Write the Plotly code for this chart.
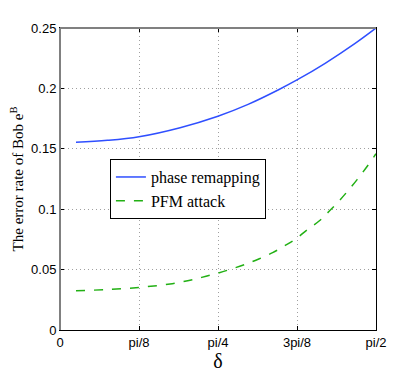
import math
import plotly.graph_objects as go

# values (delta in radians)
delta_phase = [0.0795, 0.236, 0.3927, 0.597, 0.785, 0.935, 1.084, 1.178, 1.318, 1.467, 1.5708]
err_phase = [0.1554, 0.1570, 0.1600, 0.1675, 0.1770, 0.1868, 0.1987, 0.2070, 0.2208, 0.2373, 0.2500]

delta_pfm = [0.0795, 0.236, 0.397, 0.547, 0.661, 0.726, 0.792, 0.859, 0.925, 0.991, 1.057,
             1.115, 1.173, 1.229, 1.288, 1.339, 1.387, 1.433, 1.478, 1.520, 1.561, 1.5708]
err_pfm = [0.0325, 0.0335, 0.0353, 0.0381, 0.0418, 0.0445, 0.0474, 0.0509, 0.0546, 0.0590, 0.0640,
           0.0695, 0.0755, 0.0830, 0.0902, 0.0985, 0.1068, 0.1156, 0.1247, 0.1339, 0.1435, 0.1460]

x_ticks = [0, math.pi / 8, math.pi / 4, 3 * math.pi / 8, math.pi / 2]
x_labels = ['0', 'pi/8', 'pi/4', '3pi/8', 'pi/2']
y_ticks = [0, 0.05, 0.1, 0.15, 0.2, 0.25]
y_labels = ['0', '0.05', '0.1', '0.15', '0.2', '0.25']

fig = go.Figure()

fig.add_trace(go.Scatter(
    x=delta_phase, y=err_phase, mode='lines', name='phase remapping',
    line=dict(color='#2f4fff', width=1.5, shape='spline')
))
fig.add_trace(go.Scatter(
    x=delta_pfm, y=err_pfm, mode='lines', name='PFM attack',
    line=dict(color='#22b014', width=1.5, dash='dash', shape='spline')
))

axis_common = dict(
    showline=True, linecolor='black', linewidth=1, mirror='ticks',
    ticks='inside', ticklen=4, tickcolor='black',
    showgrid=True, gridcolor='#a0a0a0', griddash='1px,3px', gridwidth=1,
    zeroline=False, automargin=False,
    tickfont=dict(family='Liberation Sans, Arial, sans-serif', size=13, color='black'),
)

# page body adds an 8px offset, so the figure is a bit smaller than the window
fig.update_layout(
    width=407, height=364,
    margin=dict(l=52, r=39, t=20, b=42),
    paper_bgcolor='white', plot_bgcolor='white',
    xaxis=dict(
        range=[0, math.pi / 2], tickvals=x_ticks, ticktext=x_labels,
        title=dict(text='δ', font=dict(family='Liberation Serif, Times New Roman, serif', size=20, color='black'), standoff=5),
        **axis_common
    ),
    yaxis=dict(
        range=[0, 0.25], tickvals=y_ticks, ticktext=y_labels,
        title=dict(text='The error rate of Bob e<sup>B</sup>', font=dict(family='Liberation Serif, Times New Roman, serif', size=15, color='black'), standoff=12),
        **axis_common
    ),
    legend=dict(
        x=0.158, y=0.566, xanchor='left', yanchor='top',
        bgcolor='white', bordercolor='black', borderwidth=1,
        font=dict(family='Liberation Serif, Times New Roman, serif', size=16, color='black'),
        tracegroupgap=0, itemwidth=30,
    ),
)

# MATLAB draws the top and left edges in a grey tone
fig.add_shape(type='line', xref='paper', yref='paper', x0=0, x1=1, y0=1, y1=1,
              line=dict(color='#808080', width=2))
fig.add_shape(type='line', xref='paper', yref='paper', x0=0, x1=0, y0=0, y1=1,
              line=dict(color='#808080', width=2))

fig.write_html("out.html")
